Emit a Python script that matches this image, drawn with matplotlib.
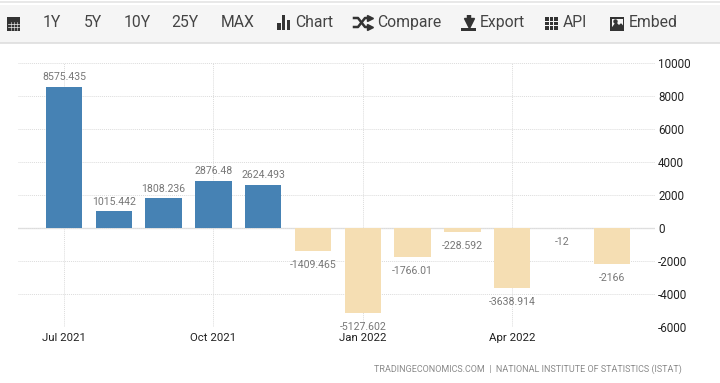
import matplotlib
matplotlib.use("Agg")
import matplotlib.pyplot as plt
from matplotlib.patches import Rectangle

months = ["Jul 2021","Aug 2021","Sep 2021","Oct 2021","Nov 2021","Dec 2021","Jan 2022","Feb 2022","Mar 2022","Apr 2022","May 2022","Jun 2022"]
values = [8575.435,1015.442,1808.236,2876.48,2624.493,-1409.465,-5127.602,-1766.01,-228.592,-3638.914,-12,-2166]
labels = ["8575.435","1015.442","1808.236","2876.48","2624.493","-1409.465","-5127.602","-1766.01","-228.592","-3638.914","-12","-2166"]
yticks = [-6000,-4000,-2000,0,2000,4000,6000,8000,10000]
xtick_labels = ["Jul 2021","Oct 2021","Jan 2022","Apr 2022"]
menu = ["1Y","5Y","10Y","25Y","MAX"]
menu_x = [52,93,137,185,238]
tools = ["Chart","Compare","Export","API","Embed"]
tools_x = [295,377,480,563,629]

W,H = 720,383
fig = plt.figure(figsize=(W/100,H/100),dpi=100,facecolor="white")
plt.rcParams['font.family'] = ['Roboto','Liberation Sans','DejaVu Sans']

bg = fig.add_axes([0,0,1,1]); bg.set_xlim(0,W); bg.set_ylim(H,0); bg.axis("off")
bg.add_patch(Rectangle((0,5),W,38,fc="#f5f5f5",ec="none"))
bg.plot([0,W],[2,2],color="#e4e4e4",lw=1.2)
bg.plot([0,W],[43,43],color="#dedede",lw=1.2)
for s,x in zip(menu,menu_x):
    bg.text(x,22.5,s,ha="center",va="center",fontsize=11.3,color="#444444")
for s,x in zip(tools,tools_x):
    bg.text(x,22.5,s,ha="left",va="center",fontsize=11.3,color="#444444")
ic="#333333"
bg.add_patch(Rectangle((7,17),13,3.5,fc=ic,ec="none"))
bg.add_patch(Rectangle((7,21),13,10,fc=ic,ec="none"))
for yy in (24,27):
    bg.plot([8,19],[yy,yy],color="#f5f5f5",lw=0.5)
for xx in (10.5,13.5,16.5):
    bg.plot([xx,xx],[21.5,30],color="#f5f5f5",lw=0.4)
for x,y0 in ((277,23),(281.5,15),(286.5,20)):
    bg.add_patch(Rectangle((x,y0),3.6,30-y0,fc=ic,ec="none"))
bg.plot([354,358,365,369],[18,18,27,27],color=ic,lw=1.8)
bg.plot([354,358,365,369],[27,27,18,18],color=ic,lw=1.8)
bg.plot([370],[18],marker=">",ms=4.5,color=ic); bg.plot([370],[27],marker=">",ms=4.5,color=ic)
bg.add_patch(Rectangle((461,27.5),15,3,fc=ic,ec="none"))
bg.plot([468.5,468.5],[15,21],color=ic,lw=3.2,solid_capstyle="butt")
bg.plot([468.5],[22.5],marker="v",ms=7,color=ic)
for i in range(3):
    for j in range(3):
        bg.add_patch(Rectangle((545+i*4.6,17+j*4.6),3.6,3.6,fc=ic,ec="none"))
bg.add_patch(Rectangle((610,17),14,13.5,fc=ic,ec="none"))
bg.add_patch(Rectangle((611.5,18.5),11,10.5,fc="#f5f5f5",ec="none"))
bg.fill([611.5,616,619,621,622.5,622.5,611.5],[29,23,26,24,26,29,29],color=ic)
bg.plot([614.5],[21],marker="o",ms=2.2,color=ic)

bg.text(682,369,"TRADINGECONOMICS.COM  |  NATIONAL INSTITUTE OF STATISTICS (ISTAT)",
        ha="right",va="center",fontsize=6.45,color="#8a8a8a")

L,R,T,B = 18,655,63,327
ax = fig.add_axes([L/W,1-B/H,(R-L)/W,(B-T)/H])
ax.patch.set_alpha(0)
idx = list(range(len(months)))
colors = ["#4682b4" if v>=0 else "#f5deb3" for v in values]
ax.bar(idx,values,width=0.73,color=colors,zorder=3)
ax.set_xlim((L-64)/49.8,(R-64)/49.8)
ax.set_ylim(-6000,10000)
for s in ax.spines.values(): s.set_visible(False)
ax.yaxis.tick_right()
ax.set_yticks(yticks)
ax.set_yticklabels([str(v) for v in yticks],fontsize=8.4,color="#222222")
ax.set_xticks([months.index(m) for m in xtick_labels])
ax.set_xticklabels(xtick_labels,fontsize=8.2,color="#222222")
ax.tick_params(axis="both",length=0)
ax.tick_params(axis="x",pad=4.5)
ax.tick_params(axis="y",pad=2.2)
ax.grid(True,axis="both",color="#dcdcdc",lw=0.7,ls=(0,(1,1)),zorder=0)
ax.axhline(0,color="#e2e2e2",lw=1,zorder=1)
for i,(v,s) in enumerate(zip(values,labels)):
    ax.annotate(s,(i,v),xytext=(0,3.2 if v>=0 else -6.6),textcoords="offset points",
                ha="center",va="bottom" if v>=0 else "top",fontsize=7.6,color="#777777",
                zorder=4,annotation_clip=False)
fig.savefig("out.png",dpi=100)
